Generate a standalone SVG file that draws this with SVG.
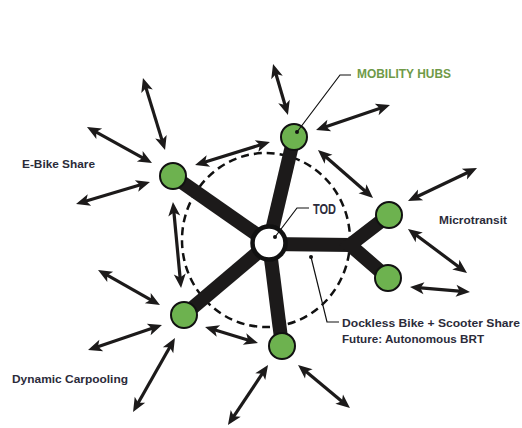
<svg xmlns="http://www.w3.org/2000/svg" width="522" height="428" viewBox="0 0 522 428">
  <style>
    .label { font-family: "Liberation Sans", Arial, sans-serif; font-weight: bold; fill: #2b2b3a; }
    .hubs-label { font-family: "Liberation Sans", Arial, sans-serif; font-weight: bold; fill: #6f9a48; }
    .arm { stroke: #1c1a1a; stroke-width: 14; fill: none; stroke-linecap: butt; }
    .arrow { stroke: #1c1a1a; stroke-width: 3.2; fill: none; marker-start: url(#head); marker-end: url(#head); }
    .hub { fill: #6db24f; stroke: #111; stroke-width: 2; }
    .leader { stroke: #111; stroke-width: 1.2; fill: none; }
    .dot { fill: #111; }
  </style>
  <defs>
    <marker id="head" markerUnits="userSpaceOnUse" markerWidth="20" markerHeight="20" refX="4" refY="0" orient="auto-start-reverse" overflow="visible">
      <path d="M-2,-6 L12,0 L-2,6 L1.5,0 z" fill="#1c1a1a"/>
    </marker>
  </defs>

  <rect width="522" height="428" fill="#ffffff"/>

  <!-- walkable catchment around the station -->
  <ellipse id="catchment" cx="266" cy="240" rx="84" ry="87" fill="none" stroke="#111" stroke-width="2.5" stroke-dasharray="8 5"/>

  <g id="connectors">
    <!-- trunk links from the TOD core to each hub -->
    <line class="arm" x1="269" y1="243" x2="294" y2="137"/>
    <line class="arm" x1="269" y1="243" x2="173" y2="176"/>
    <line class="arm" x1="269" y1="243" x2="184" y2="315"/>
    <line class="arm" x1="269" y1="243" x2="282" y2="346"/>
    <line class="arm" x1="269" y1="244" x2="352" y2="245"/>
    <polyline class="arm" points="389,215 350,245 388,278" stroke-linejoin="miter"/>

    <!-- two-way trips -->
    <line class="arrow" x1="275.3" y1="71.7" x2="285.7" y2="107.3"/>
    <line class="arrow" x1="323.6" y1="127.4" x2="382.4" y2="107.6"/>
    <line class="arrow" x1="324" y1="155.3" x2="367" y2="192.7"/>
    <line class="arrow" x1="202.7" y1="162.7" x2="262.3" y2="144.3"/>
    <line class="arrow" x1="145.3" y1="85.6" x2="162.7" y2="142.4"/>
    <line class="arrow" x1="94" y1="130.9" x2="145" y2="159.1"/>
    <line class="arrow" x1="83.7" y1="201.7" x2="142.3" y2="184.3"/>
    <line class="arrow" x1="173.7" y1="210" x2="180.3" y2="280"/>
    <line class="arrow" x1="105" y1="273.9" x2="153" y2="301.1"/>
    <line class="arrow" x1="95.6" y1="347.4" x2="154.4" y2="327.6"/>
    <line class="arrow" x1="137" y1="405" x2="171" y2="345"/>
    <line class="arrow" x1="212.7" y1="329.3" x2="250.3" y2="340.7"/>
    <line class="arrow" x1="232.4" y1="418.3" x2="263.6" y2="371.7"/>
    <line class="arrow" x1="304.2" y1="370.1" x2="343.8" y2="402.9"/>
    <line class="arrow" x1="415.2" y1="197.5" x2="469.8" y2="171.5"/>
    <line class="arrow" x1="414.4" y1="233.8" x2="460.6" y2="268.2"/>
    <line class="arrow" x1="418" y1="287.7" x2="462" y2="291.3"/>
  </g>

  <g id="tod">
    <circle cx="269" cy="243" r="16.5" fill="#ffffff" stroke="#111" stroke-width="4.5"/>
    <circle class="dot" cx="275" cy="237" r="2"/>
    <polyline class="leader" points="275,237 297,208 309,208"/>
    <text class="label" x="313" y="214" font-size="14" textLength="23" lengthAdjust="spacingAndGlyphs" fill="#111">TOD</text>
  </g>

  <g id="hub-top">
    <circle class="hub" cx="294" cy="137" r="13"/>
    <circle class="dot" cx="297" cy="132" r="2"/>
    <polyline class="leader" points="297,132 340,75 351,75"/>
    <text class="hubs-label" x="357" y="77.5" font-size="12" textLength="94" lengthAdjust="spacingAndGlyphs">MOBILITY HUBS</text>
  </g>

  <g id="hub-ebike">
    <circle class="hub" cx="173" cy="176" r="13"/>
    <text class="label" x="22" y="167.5" font-size="11.5" textLength="73" lengthAdjust="spacingAndGlyphs">E-Bike Share</text>
  </g>

  <g id="hub-microtransit-north">
    <circle class="hub" cx="389" cy="215" r="13"/>
    <text class="label" x="439" y="224" font-size="11.5" textLength="68" lengthAdjust="spacingAndGlyphs">Microtransit</text>
  </g>

  <g id="hub-microtransit-south">
    <circle class="hub" cx="388" cy="278" r="13"/>
  </g>

  <g id="hub-carpool">
    <circle class="hub" cx="184" cy="315" r="13"/>
    <text class="label" x="12" y="382.5" font-size="11.5" textLength="116" lengthAdjust="spacingAndGlyphs">Dynamic Carpooling</text>
  </g>

  <g id="hub-south">
    <circle class="hub" cx="282" cy="346" r="13"/>
  </g>

  <g id="shared-micromobility">
    <circle class="dot" cx="311" cy="257" r="2"/>
    <polyline class="leader" points="311,257 327,322 339,322"/>
    <text class="label" x="342" y="326.5" font-size="11.5" textLength="178" lengthAdjust="spacingAndGlyphs">Dockless Bike + Scooter Share</text>
    <text class="label" x="342" y="342.5" font-size="11.5" textLength="142" lengthAdjust="spacingAndGlyphs">Future: Autonomous BRT</text>
  </g>
</svg>
